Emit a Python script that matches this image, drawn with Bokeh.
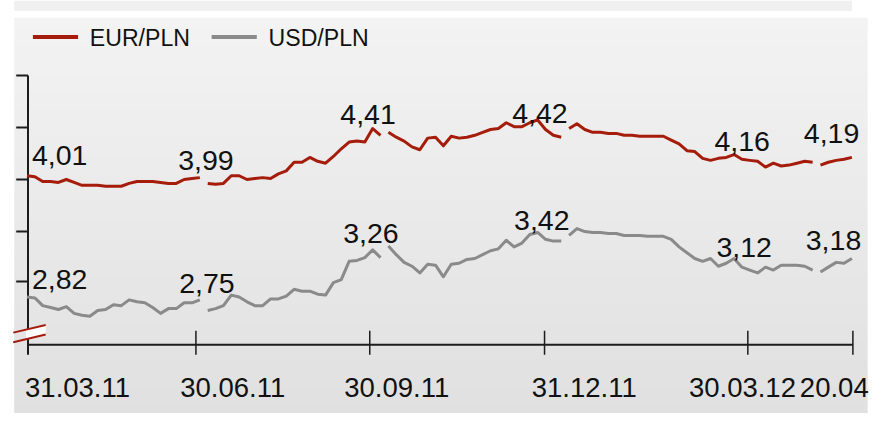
from bokeh.plotting import figure
from bokeh.models import Range1d
from bokeh.core.properties import value
from bokeh.embed import file_html
from bokeh.resources import INLINE

# ---------------- data (one observation per index step) ----------------
eur = [4.017, 4.010, 3.974, 3.974, 3.967, 3.989, 3.967, 3.946, 3.946, 3.946,
       3.939, 3.939, 3.939, 3.960, 3.974, 3.974, 3.974, 3.967, 3.960, 3.960,
       3.989, 3.996, 4.003, 3.960, 3.953, 3.960, 4.017, 4.017, 3.989, 3.996,
       4.003, 3.996, 4.031, 4.053, 4.117, 4.117, 4.153, 4.124, 4.110, 4.160,
       4.217, 4.267, 4.274, 4.267, 4.367, 4.317, 4.339, 4.303, 4.274, 4.231,
       4.210, 4.296, 4.303, 4.239, 4.310, 4.296, 4.303, 4.317, 4.339, 4.360,
       4.367, 4.410, 4.381, 4.381, 4.410, 4.431, 4.360, 4.317, 4.303, 4.367,
       4.403, 4.360, 4.339, 4.339, 4.331, 4.331, 4.317, 4.317, 4.310, 4.310,
       4.310, 4.310, 4.281, 4.253, 4.203, 4.196, 4.146, 4.131, 4.146, 4.153,
       4.174, 4.139, 4.131, 4.124, 4.081, 4.110, 4.089, 4.096, 4.110, 4.124,
       4.117, 4.096, 4.117, 4.131, 4.139, 4.153]
usd = [2.820, 2.812, 2.744, 2.727, 2.710, 2.735, 2.676, 2.659, 2.651, 2.701,
       2.710, 2.752, 2.744, 2.795, 2.778, 2.769, 2.727, 2.676, 2.718, 2.718,
       2.769, 2.769, 2.795, 2.701, 2.718, 2.744, 2.837, 2.820, 2.778, 2.744,
       2.744, 2.803, 2.803, 2.828, 2.888, 2.871, 2.871, 2.845, 2.837, 2.947,
       2.973, 3.134, 3.142, 3.167, 3.235, 3.167, 3.269, 3.193, 3.125, 3.091,
       3.032, 3.108, 3.100, 2.998, 3.108, 3.117, 3.151, 3.159, 3.193, 3.227,
       3.244, 3.320, 3.261, 3.295, 3.371, 3.388, 3.328, 3.312, 3.312, 3.362,
       3.422, 3.396, 3.388, 3.388, 3.379, 3.379, 3.362, 3.362, 3.362, 3.354,
       3.354, 3.354, 3.328, 3.261, 3.210, 3.159, 3.134, 3.159, 3.091, 3.117,
       3.159, 3.083, 3.057, 3.032, 3.083, 3.057, 3.100, 3.100, 3.100, 3.091,
       3.057, 3.040, 3.083, 3.125, 3.117, 3.159]
breaks = [22, 45, 68, 100]          # series interrupted after these observations

tick_labels = ["31.03.11", "30.06.11", "30.09.11", "31.12.11", "30.03.12", "20.04"]
tick_pos = [0, 21.5, 43.625, 65.875, 91.75, 105.125]   # in observation index units

eur_marks = [4.01, 3.99, 4.41, 4.42, 4.16, 4.19]
usd_marks = [2.82, 2.75, 3.26, 3.42, 3.12, 3.18]
series_names = ["EUR/PLN", "USD/PLN"]

# ---------------- layout / style ----------------
W, H = 874, 413                     # canvas size
RW, RH = 890, 429                   # layout grid the decorations are laid out on
X_OBS0, X_STEP = 27, 8              # layout x of first observation, layout px per observation
EUR_REF, EUR_PX, EUR_SCALE = 4.01, 183, 140.0
USD_REF, USD_PX, USD_SCALE = 2.82, 308, 118.0
EUR_COL = "#a51c0a"
USD_COL = "#8a8a8a"
AX_COL = "#1c1c1c"
FONT = "Liberation Sans"
K = W / RW                          # font scale

x_range = Range1d((0 - X_OBS0) / X_STEP, (RW - X_OBS0) / X_STEP)
y_range = Range1d(EUR_REF - (RH - EUR_PX) / EUR_SCALE, EUR_REF + EUR_PX / EUR_SCALE)

p = figure(width=W, height=H, x_range=x_range, y_range=y_range,
           x_axis_type=None, y_axis_type=None, output_backend="svg",
           toolbar_location=None, min_border=0,
           background_fill_color="white", border_fill_color="white",
           outline_line_color=None)
p.title.visible = False
p.extra_x_ranges = {"px": Range1d(0, RW)}
p.extra_y_ranges = {
    "px": Range1d(RH, 0),
    "usd": Range1d(USD_REF - (RH - USD_PX) / USD_SCALE, USD_REF + USD_PX / USD_SCALE),
}

# background: top strip + vertical gradient panel
p.quad(left=14, right=867, top=0, bottom=11, x_range_name="px", y_range_name="px",
       fill_color="#f0f0f0", line_color=None)
n_bands = 43
g_top, g_bot = 18, 430
c_top, c_bot = 243, 224
bt, bb, bc = [], [], []
for k in range(n_bands):
    y0 = g_top + (g_bot - g_top) * k / n_bands
    y1 = g_top + (g_bot - g_top) * (k + 1) / n_bands
    c = round(c_top + (c_bot - c_top) * (k + 0.5) / n_bands)
    bt.append(y0)
    bb.append(y1 + 0.8)
    bc.append("#%02x%02x%02x" % (c, c, c))
p.quad(left=14, right=883, top=bt, bottom=bb, x_range_name="px", y_range_name="px",
       fill_color=bc, line_color=None)

# axes
p.segment(x0=28, y0=78, x1=28, y1=368, x_range_name="px", y_range_name="px",
          line_color=AX_COL, line_width=2)
ytk = [78, 132, 186, 240, 292]
p.segment(x0=[16] * 5, x1=[28] * 5, y0=ytk, y1=ytk,
          x_range_name="px", y_range_name="px", line_color=AX_COL, line_width=2)
p.segment(x0=tick_pos[0], x1=tick_pos[-1], y0=357.5, y1=357.5, y_range_name="px",
          line_color=AX_COL, line_width=2)
p.segment(x0=tick_pos[1:], x1=tick_pos[1:], y0=[343] * (len(tick_pos) - 1),
          y1=[368] * (len(tick_pos) - 1), y_range_name="px", line_color=AX_COL, line_width=1.5)

# axis break marker
def on_line(x, x0, y0, x1, y1):
    return y0 + (y1 - y0) * (x - x0) / (x1 - x0)
up = (13, 345, 46, 337)
lo = (13, 355, 46, 347)
p.patch(x=[26, 46, 46, 26],
        y=[on_line(26, *up), up[3], lo[3], on_line(26, *lo)],
        x_range_name="px", y_range_name="px", fill_color="white", line_color=None)
p.segment(x0=[up[0], lo[0]], y0=[up[1], lo[1]], x1=[up[2], lo[2]], y1=[up[3], lo[3]],
          x_range_name="px", y_range_name="px", line_color=EUR_COL, line_width=2)

# series lines
def split(vals):
    xs, ys, start = [], [], 0
    for b in breaks + [len(vals) - 1]:
        xs.append(list(range(start, b + 1)))
        ys.append(vals[start:b + 1])
        start = b + 1
    return xs, ys

ex, ey = split(eur)
ux, uy = split(usd)
p.multi_line(xs=ux, ys=uy, y_range_name="usd", line_color=USD_COL, line_width=3, line_join="round")
p.multi_line(xs=ex, ys=ey, line_color=EUR_COL, line_width=3, line_join="round")

# legend
p.segment(x0=[33, 215], x1=[79, 261], y0=[38, 38], y1=[38, 38], x_range_name="px", y_range_name="px",
          line_color=[EUR_COL, USD_COL], line_width=4)
p.text(x=[91, 273], y=[39, 39], text=series_names, x_range_name="px", y_range_name="px",
       text_font=value(FONT), text_font_size=value("%.1fpx" % (23.5 * K)),
       text_color="#111111", text_baseline="middle", text_align="left")

# value labels
fmt = lambda v: ("%.2f" % v).replace(".", ",")
eur_lbl_x = [32, 181, 346, 521, 727, 818]
eur_lbl_y = [160.5, 166.5, 118.5, 117.5, 146.5, 138.5]
usd_lbl_x = [32, 182, 349, 523, 729, 820]
usd_lbl_y = [290, 293.5, 242.5, 228.5, 256.5, 249.5]
p.text(x=eur_lbl_x + usd_lbl_x, y=eur_lbl_y + usd_lbl_y,
       text=[fmt(v) for v in eur_marks + usd_marks], x_range_name="px", y_range_name="px",
       text_font=value(FONT), text_font_size=value("%.1fpx" % (29 * K)), text_color="#111111",
       text_baseline="middle", text_align="left")

# x tick labels
p.text(x=[25, 183, 350, 541, 701, 814], y=[402.5] * len(tick_labels), text=tick_labels,
       x_range_name="px", y_range_name="px",
       text_font=value(FONT), text_font_size=value("%.1fpx" % (28 * K)), text_color="#111111",
       text_baseline="middle", text_align="left")

open("out.html", "w").write(file_html(p, INLINE))
